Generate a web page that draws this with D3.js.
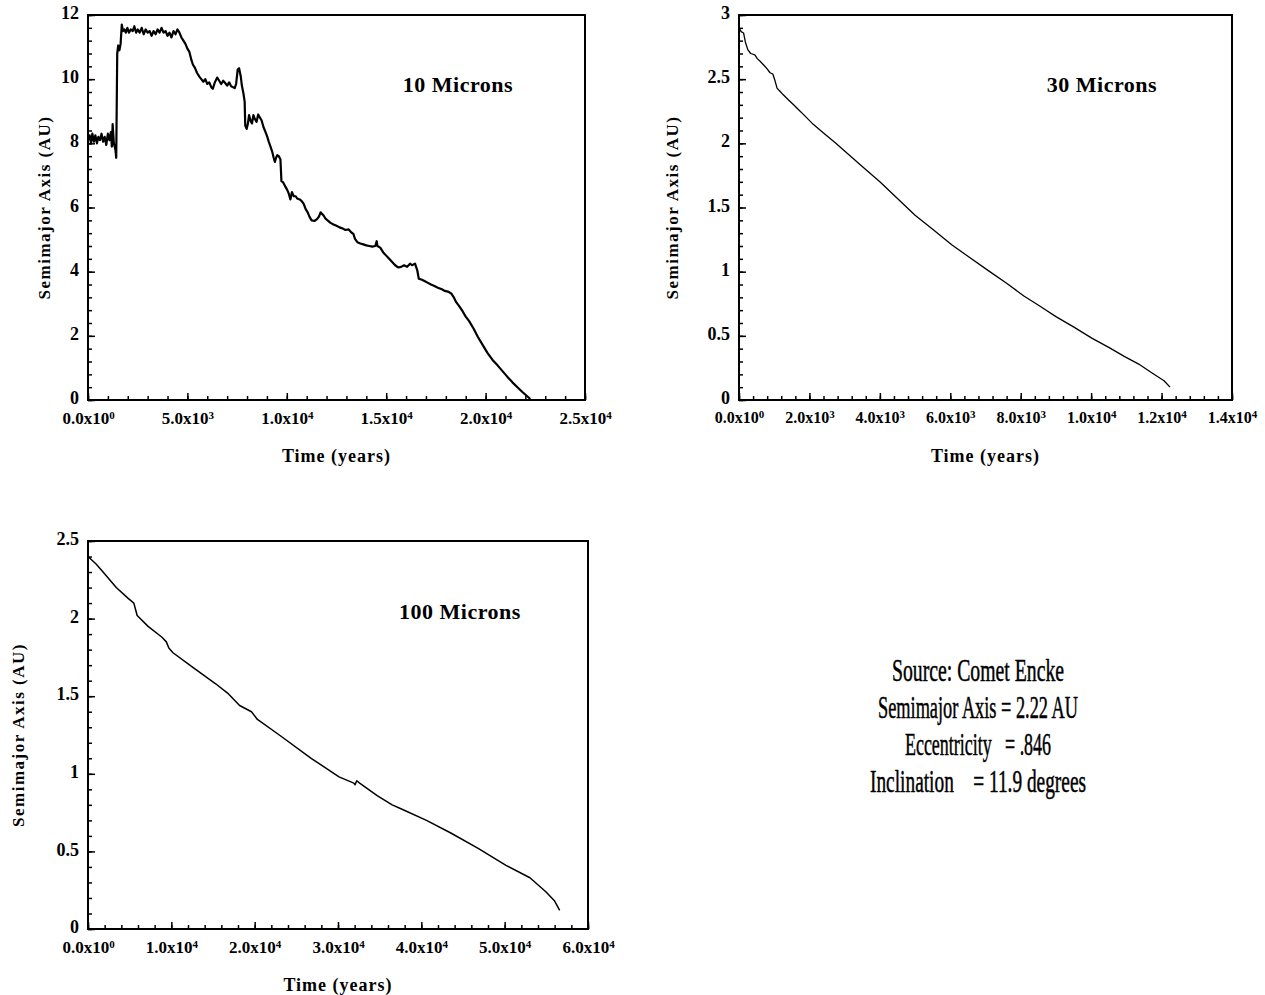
<!DOCTYPE html>
<html lang="en">
<head>
<meta charset="UTF-8">
<title>semimajor axis decay</title>
<script src="https://cdn.jsdelivr.net/npm/d3@7"></script>
<style>
    body { margin: 0; background: #fff; }
    svg text { font-family: "Liberation Serif", "Times New Roman", serif; fill: #000; }
    .tick text { font-size: 17px; font-weight: bold; }
    .domain { display: none; }
    .tick line { stroke: #000; stroke-width: 1.5; }
    .frame { fill: none; stroke: #000; stroke-width: 2; }
    .curve { fill: none; stroke: #000; stroke-linejoin: round; }
</style>
</head>
<body>
<script>
// data: [time (years), semimajor axis (AU)]
const micron10 = [
    [0,8.1],[80,8.25],[150,8.0],[220,8.3],[300,8.05],[370,8.25],[450,8.0],[520,8.2],[600,8.1],[680,8.3],
    [760,8.05],[840,8.2],[920,7.95],[1000,8.3],[1080,8.1],[1150,8.35],[1200,7.9],[1240,8.6],[1300,8.0],[1380,7.8],
    [1420,7.55],[1470,10.8],[1520,11.05],[1580,10.9],[1640,11.1],[1700,11.7],[1760,11.5],[1830,11.55],[1900,11.45],[1980,11.6],
    [2060,11.45],[2150,11.55],[2250,11.5],[2330,11.65],[2420,11.45],[2500,11.55],[2600,11.45],[2700,11.6],[2800,11.4],[2900,11.55],
    [3000,11.45],[3100,11.5],[3200,11.35],[3300,11.5],[3400,11.4],[3500,11.55],[3600,11.45],[3700,11.6],[3800,11.45],[3900,11.5],
    [4000,11.35],[4100,11.45],[4200,11.3],[4300,11.5],[4400,11.4],[4500,11.55],[4600,11.45],[4700,11.3],[4800,11.2],[4900,11.1],
    [5000,10.95],[5100,10.85],[5200,10.6],[5280,10.45],[5380,10.35],[5480,10.2],[5600,10.08],[5700,10.0],[5800,9.92],[5900,10.0],
    [6000,9.85],[6100,9.9],[6200,9.75],[6280,9.7],[6380,9.9],[6500,10.05],[6600,9.95],[6700,9.85],[6800,9.95],[6900,9.88],
    [7000,9.8],[7100,9.9],[7200,9.78],[7300,9.75],[7380,9.72],[7450,9.85],[7530,10.3],[7600,10.34],[7680,10.1],[7740,9.8],
    [7820,9.55],[7880,9.3],[7910,8.55],[7980,8.45],[8040,8.6],[8100,8.88],[8180,8.7],[8250,8.62],[8320,8.88],[8400,8.75],
    [8480,8.67],[8560,8.9],[8650,8.8],[8730,8.72],[8830,8.5],[8930,8.35],[9020,8.2],[9100,8.04],[9180,7.9],[9270,7.73],
    [9340,7.55],[9400,7.42],[9460,7.55],[9520,7.63],[9600,7.6],[9680,7.5],[9730,6.82],[9820,6.78],[9930,6.65],[10020,6.55],
    [10100,6.43],[10180,6.25],[10260,6.48],[10350,6.35],[10450,6.35],[10520,6.28],[10650,6.25],[10750,6.2],[10850,6.11],[10950,5.95],
    [11050,5.85],[11150,5.7],[11250,5.6],[11400,5.58],[11520,5.64],[11620,5.72],[11700,5.85],[11780,5.8],[11850,5.75],[11950,5.65],
    [12050,5.6],[12200,5.52],[12350,5.47],[12500,5.43],[12650,5.38],[12800,5.35],[12950,5.3],[13100,5.32],[13250,5.22],[13350,5.18],
    [13430,5.02],[13550,4.92],[13700,4.88],[13850,4.85],[14000,4.82],[14150,4.8],[14300,4.78],[14450,4.8],[14520,4.95],[14560,4.8],
    [14700,4.75],[14850,4.6],[15000,4.5],[15150,4.4],[15300,4.3],[15450,4.2],[15600,4.13],[15750,4.15],[15900,4.2],[16050,4.15],
    [16200,4.25],[16300,4.2],[16450,4.25],[16560,4.05],[16640,3.78],[16800,3.75],[16950,3.7],[17100,3.65],[17250,3.6],[17400,3.56],
    [17600,3.5],[17800,3.45],[17950,3.4],[18100,3.38],[18270,3.32],[18400,3.2],[18520,3.05],[18680,2.92],[18850,2.76],[19000,2.6],
    [19180,2.45],[19400,2.22],[19600,1.98],[19850,1.72],[20100,1.46],[20350,1.25],[20600,1.08],[20850,0.9],[21100,0.72],[21350,0.55],
    [21600,0.4],[21850,0.25],[22050,0.14],[22250,0.03]
];
const micron30 = [
    [0,2.90],[60,2.87],[130,2.86],[180,2.79],[250,2.73],[330,2.70],[450,2.69],[520,2.66],[600,2.64],[700,2.61],
    [800,2.58],[880,2.55],[960,2.54],[1020,2.49],[1080,2.43],[1150,2.41],[1250,2.38],[1400,2.34],[1550,2.30],[1700,2.26],
    [1850,2.22],[2100,2.15],[2400,2.08],[2750,2.00],[3080,1.92],[3500,1.82],[4000,1.70],[4500,1.57],[5000,1.44],[5500,1.33],
    [6040,1.21],[6500,1.12],[7070,1.01],[7600,0.91],[8090,0.81],[8550,0.73],[9000,0.65],[9500,0.57],[10030,0.48],[10500,0.41],
    [10940,0.34],[11350,0.28],[11730,0.21],[12070,0.15],[12240,0.10]
];
const micron100 = [
    [0,2.40],[1000,2.35],[1960,2.29],[3390,2.20],[4820,2.13],[5500,2.10],[5700,2.06],[5900,2.02],[7210,1.95],[8880,1.88],
    [9400,1.85],[9700,1.81],[10200,1.78],[12460,1.69],[15320,1.58],[16750,1.52],[18190,1.44],[19620,1.40],[20330,1.35],[22960,1.25],
    [26780,1.10],[30120,0.98],[31900,0.94],[32050,0.93],[32250,0.955],[32600,0.94],[34700,0.86],[36500,0.80],[37750,0.77],[40620,0.70],
    [43480,0.62],[46820,0.52],[50160,0.41],[53030,0.33],[54940,0.24],[56000,0.18],[56600,0.12]
];

const panelLabels = ["10 Microns", "30 Microns", "100 Microns"];
const xTitle = "Time (years)";
const yTitle = "Semimajor Axis (AU)";
const xMax = [25000, 14000, 60000];
const xStep = [5000, 2000, 10000];
const xMinorStep = [1000, 400, 2000];
const yMax = [12, 3, 2.5];
const yStep = [2, 0.5, 0.5];
const yMinorStep = [0.4, 0.1, 0.1];
const infoLines = ["Source: Comet Encke", "Semimajor Axis = 2.22 AU", "Eccentricity   = .846", "Inclination    = 11.9 degrees"];

var svg = d3.select("body").append("svg")
    .attr("width", 1265)
    .attr("height", 995);

// panel boxes [left, right, top, bottom] and text placement
var boxes = [
    {l: 88,  r: 585,  t: 15,  b: 400, titleX: 44,  lab: [458, 92],  line: 2.2, xfs: 17},
    {l: 739, r: 1232, t: 15,  b: 400, titleX: 672, lab: [1102, 92], line: 1.3, xfs: 16},
    {l: 88,  r: 588,  t: 541, b: 929, titleX: 18,  lab: [460, 619], line: 1.5, xfs: 17}
];
var series = [micron10, micron30, micron100];

function sciParts(d) {
    if (d === 0) return ["0.0", "0"];
    var e = Math.floor(Math.log10(d) + 1e-9);
    return [(d / Math.pow(10, e)).toFixed(1), String(e)];
}

boxes.forEach(function(b, i) {
    var x = d3.scaleLinear().domain([0, xMax[i]]).range([b.l, b.r]);
    var y = d3.scaleLinear().domain([0, yMax[i]]).range([b.b, b.t]);
    var g = svg.append("g");

    // minor ticks
    g.append("g").attr("transform", "translate(0," + b.b + ")")
        .call(d3.axisBottom(x).tickValues(d3.range(0, xMax[i] + 1, xMinorStep[i])).tickSize(-4).tickFormat(""));
    g.append("g").attr("transform", "translate(" + b.l + ",0)")
        .call(d3.axisLeft(y).tickValues(d3.range(0, yMax[i] + 1e-6, yMinorStep[i])).tickSize(-4).tickFormat(""));

    // major ticks
    var xa = g.append("g").attr("transform", "translate(0," + b.b + ")")
        .call(d3.axisBottom(x).tickValues(d3.range(0, xMax[i] + 1, xStep[i])).tickSize(-7).tickPadding(12));
    xa.selectAll(".tick text").style("font-size", b.xfs + "px").each(function(d) {
        var p = sciParts(d), t = d3.select(this).text(null);
        t.append("tspan").text(p[0] + "x10");
        t.append("tspan").attr("dy", "-0.45em").style("font-size", "11px").text(p[1]);
    });
    g.append("g").attr("transform", "translate(" + b.l + ",0)")
        .call(d3.axisLeft(y).tickValues(d3.range(0, yMax[i] + 1e-6, yStep[i])).tickSize(-7).tickPadding(9)
            .tickFormat(d => String(+d.toFixed(1))))
        .selectAll(".tick text").style("font-size", "18px").attr("dy", "0.2em");

    g.append("rect").attr("class", "frame")
        .attr("x", b.l).attr("y", b.t).attr("width", b.r - b.l).attr("height", b.b - b.t);

    g.append("path").datum(series[i]).attr("class", "curve")
        .attr("stroke-width", b.line)
        .attr("d", d3.line().x(d => x(d[0])).y(d => y(d[1])));

    g.append("text").attr("x", b.lab[0]).attr("y", b.lab[1])
        .attr("text-anchor", "middle").style("font-size", "22px").style("font-weight", "bold")
        .style("letter-spacing", "0.5px").text(panelLabels[i]);

    g.append("text").attr("x", (b.l + b.r) / 2).attr("y", b.b + 62)
        .attr("text-anchor", "middle").style("font-size", "18px").style("font-weight", "bold")
        .style("letter-spacing", "1px").text(xTitle);

    g.append("text")
        .attr("transform", "translate(" + b.titleX + "," + ((b.t + b.b) / 2) + ") rotate(-90)")
        .attr("text-anchor", "middle").attr("dy", "0.35em")
        .style("font-size", "17px").style("font-weight", "bold").style("letter-spacing", "1.5px")
        .text(yTitle);
});

// orbit note, condensed lines
var infoWidth = [172, 200, 146, 216];
svg.append("g").selectAll("text")
    .data(infoLines)
    .enter()
    .append("text")
    .attr("x", 978)
    .attr("y", (d, i) => 681 + i * 37)
    .attr("text-anchor", "middle")
    .attr("xml:space", "preserve")
    .style("white-space", "pre")
    .style("font-size", "32px")
    .style("stroke", "#000")
    .style("stroke-width", "0.5px")
    .attr("textLength", (d, i) => infoWidth[i])
    .attr("lengthAdjust", "spacingAndGlyphs")
    .text(d => d);
</script>
</body>
</html>
